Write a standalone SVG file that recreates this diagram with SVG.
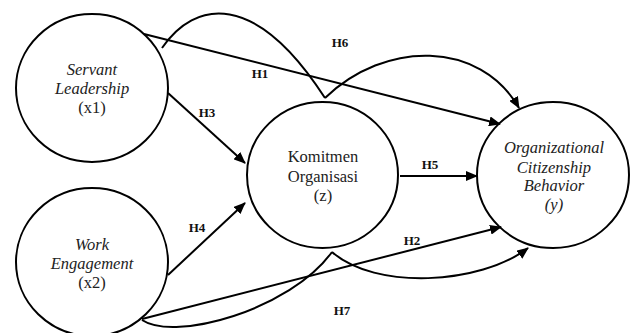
<svg xmlns="http://www.w3.org/2000/svg" width="633" height="333" viewBox="0 0 633 333">
<style>
.node{fill:none;stroke:#000;stroke-width:2}
.t{font-family:'Liberation Serif','Times New Roman','DejaVu Serif',serif;font-size:16.5px;fill:#222;text-anchor:middle}
.i{font-style:italic}
.lbl{font-family:'Liberation Serif','Times New Roman','DejaVu Serif',serif;font-size:13px;font-weight:bold;fill:#111;text-anchor:middle}
.c{fill:none;stroke:#000;stroke-width:2}
.a{marker-end:url(#arr)}
</style>
<defs>
<marker id="arr" markerUnits="userSpaceOnUse" markerWidth="12" markerHeight="10" viewBox="0 0 12 10" refX="11" refY="5" orient="auto">
<path d="M0,0 L12,5 L0,10 Z" fill="#000"/>
</marker>
</defs>
<rect width="633" height="333" fill="#fff"/>
<g id="servant">
<ellipse class="node" cx="92" cy="88" rx="76" ry="74"/>
<text class="t i" x="92" y="75" font-family="Liberation Serif, serif">Servant</text>
<text class="t i" x="92" y="94" font-family="Liberation Serif, serif">Leadership</text>
<text class="t" x="92" y="113" font-family="Liberation Serif, serif">(x1)</text>
</g>
<g id="work">
<ellipse class="node" cx="92" cy="262" rx="76" ry="74"/>
<text class="t i" x="92" y="250" font-family="Liberation Serif, serif">Work</text>
<text class="t i" x="92" y="269" font-family="Liberation Serif, serif">Engagement</text>
<text class="t" x="92" y="288" font-family="Liberation Serif, serif">(x2)</text>
</g>
<g id="komitmen">
<ellipse class="node" cx="322.5" cy="175" rx="75.5" ry="73"/>
<text class="t" x="323" y="162" font-family="Liberation Serif, serif">Komitmen</text>
<text class="t" x="323" y="182" font-family="Liberation Serif, serif">Organisasi</text>
<text class="t" x="323" y="201" font-family="Liberation Serif, serif">(z)</text>
</g>
<g id="ocb">
<ellipse class="node" cx="553" cy="175" rx="76" ry="73"/>
<text class="t i" x="554" y="153" font-family="Liberation Serif, serif">Organizational</text>
<text class="t i" x="554" y="173" font-family="Liberation Serif, serif">Citizenship</text>
<text class="t i" x="554" y="191" font-family="Liberation Serif, serif">Behavior</text>
<text class="t i" x="554" y="210" font-family="Liberation Serif, serif">(y)</text>
</g>
<g id="connectors">
<line class="c a" x1="144" y1="34" x2="500" y2="124"/>
<line class="c a" x1="168" y1="93" x2="245" y2="163"/>
<line class="c a" x1="168" y1="275" x2="245" y2="203"/>
<line class="c a" x1="400" y1="176" x2="477" y2="176"/>
<line class="c a" x1="142" y1="319" x2="501" y2="227"/>
<path class="c" d="M162,48 C195,0 255,-10 325,98"/>
<path class="c a" d="M325,98 C385,40 480,40 519,108"/>
<path class="c" d="M142,320 C175,342 290,310 332,252"/>
<path class="c a" d="M332,252 C375,290 480,285 528,248"/>
</g>
<g id="labels" font-family="Liberation Serif, serif">
<text class="lbl" x="260" y="78">H1</text>
<text class="lbl" x="207" y="117">H3</text>
<text class="lbl" x="340" y="47">H6</text>
<text class="lbl" x="430" y="169">H5</text>
<text class="lbl" x="197" y="232">H4</text>
<text class="lbl" x="412" y="245">H2</text>
<text class="lbl" x="342" y="315">H7</text>
</g>
</svg>
